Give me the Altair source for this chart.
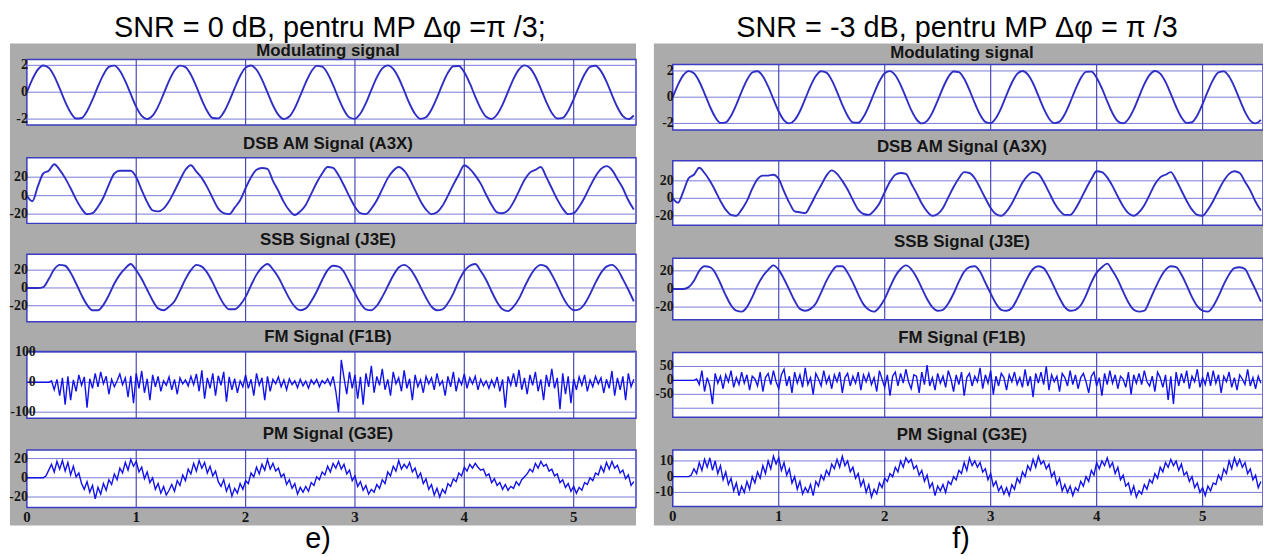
import altair as alt
import pandas as pd

XMAX = 5.57
DT_SMOOTH = 0.05
DT_NOISE = 0.025

main_titles = ["SNR = 0 dB, pentru MP Δφ =π /3;", "SNR = -3 dB, pentru MP Δφ = π /3"]
captions = ["e)", "f)"]
panel_titles = ["Modulating signal", "DSB AM Signal (A3X)", "SSB Signal (J3E)",
                "FM Signal (F1B)", "PM Signal (G3E)"]
x_tick_values = [0, 1, 2, 3, 4, 5]
v_grid_values = [1, 2, 3, 4, 5]

# ---- column e) (SNR = 0 dB) ----
modulating = [0, 0.96, 1.68, 1.99, 1.82, 1.20, 0.28, -0.70, -1.51, -1.96, -1.92, -1.41, -0.56, 0.43, 1.31,
              1.88, 1.98, 1.60, 0.82, -0.15, -1.09, -1.76, -2.00, -1.75, -1.07, -0.13, 0.84, 1.61, 1.98,
              1.87, 1.30, 0.41, -0.58, -1.42, -1.92, -1.95, -1.50, -0.68, 0.30, 1.21, 1.83, 1.99, 1.67,
              0.94, -0.02, -0.97, -1.69, -2.00, -1.81, -1.18, -0.26, 0.72, 1.53, 1.96, 1.91, 1.40, 0.54,
              -0.45, -1.33, -1.88, -1.98, -1.59, -0.81, 0.17, 1.10, 1.77, 2.00, 1.74, 1.06, 0.11, -0.86,
              -1.62, -1.98, -1.86, -1.29, -0.40, 0.59, 1.44, 1.93, 1.95, 1.49, 0.67, -0.32, -1.22, -1.83,
              -1.99, -1.66, -0.93, 0.04, 0.99, 1.70, 2.00, 1.80, 1.17, 0.25, -0.73, -1.54, -1.96, -1.91,
              -1.39, -0.52, 0.46, 1.34, 1.89, 1.97, 1.57, 0.79, -0.19, -1.12, -1.78, -2.00, -1.73, -1.04]

am_e = [0, -6, 10, 24, 27, 34, 28, 19, 8, -4,
        -14, -20, -19, -12, -2, 12, 24, 27, 27, 27,
        20, 6, -7, -16, -17, -14, -6, 5, 17, 28,
        33, 26, 19, 9, -3, -14, -19, -20, -13, -5,
        8, 20, 28, 30, 29, 16, 5, -7, -16, -21,
        -17, -10, 2, 14, 24, 31, 30, 22, 11, -1,
        -12, -19, -20, -14, -5, 7, 19, 27, 31, 27,
        18, 6, -6, -15, -20, -18, -11, 0, 12, 23,
        33, 29, 22, 13, 1, -10, -18, -19, -16, -7,
        5, 17, 25, 28, 31, 20, 8, -4, -14, -20,
        -19, -12, -2, 10, 21, 29, 32, 28, 18, 8,
        -5, -15, -19]

ssb_e = [0, 0, 0, 1, 10, 21, 26, 25, 17, 5,
         -8, -19, -25, -25, -19, -8, 5, 15, 22, 27,
         20, 10, -2, -14, -23, -25, -21, -15, -3, 10,
         20, 26, 24, 17, 6, -7, -18, -24, -24, -19,
         -10, 3, 15, 23, 27, 21, 12, 0, -12, -21,
         -25, -23, -15, -4, 9, 20, 25, 24, 18, 6,
         -6, -17, -24, -25, -20, -10, 2, 14, 23, 26,
         22, 13, 1, -11, -21, -25, -24, -17, -6, 8,
         19, 25, 27, 19, 9, -4, -16, -24, -26, -21,
         -12, 1, 13, 22, 26, 24, 15, 3, -10, -20,
         -25, -24, -18, -7, 6, 17, 24, 26, 21, 10,
         -2, -15, -23]

fm_e = [0, 0, 0, 0, 0, 0, 0, 0, 0,
        5, -25, 10, -45, 15, -75, 20, -60, 8, -30,
        25, -10, 18, -85, 12, -20, 30, -15, 35, -5,
        20, -40, 10, -15, 5, 28, -8, 15, -50, 22,
        -70, 30, -20, 38, -35, 12, -60, 25, -15, 20,
        -30, 5, -10, 18, -25, 10, -40, 15, -5, 8,
        -12, 20, -8, 28, -30, 40, -55, 15, -20, 30,
        -45, 22, -10, 35, -65, 18, -25, 12, -35, 5,
        -15, 25, -20, 10, -45, 30, -10, 15, -60, 20,
        -30, 10, -5, 18, -15, 8, -25, 12, -8, 5,
        -18, 10, -12, 4, -20, 8, -6, 10, -15, 6,
        -4, 12, -10, 20, -30, -100, 75, 15, -40, 35,
        -20, 25, -55, 18, -75, 30, -15, 55, -35, 20,
        -10, 45, -25, 10, -45, 35, -5, 15, -30, 40,
        -20, 12, -60, 25, -15, 8, -35, 20, -5, 15,
        -25, 30, -10, 5, -45, 20, -15, 35, -30, 12,
        -8, 28, -20, 15, -5, 20, -25, 10, -12, 5,
        -20, 8, -15, 18, -30, 10, -85, 20, -10, 30,
        -15, 42, -25, 15, -40, 25, -10, 35, -30, 10,
        -60, 25, -15, 45, -20, 15, -90, 30, -40, 20,
        -70, 12, -25, 18, -10, 25, -30, 8, -15, 20,
        -5, 15, -35, 10, -20, 38, -45, 15, -25, 20,
        -60, 30, -15, 10]

pm_e = [0, 0, 0, 0, 0, 0, 0,
        2, 8, 14, 6, 17, 9, 18, 7, 16, 3,
        12, 1, 5, -6, -12, -4, -15, -8, -22, -10,
        -17, -6, -13, -2, -7, 4, -2, 10, 5, 16,
        8, 19, 12, 17, 6, 11, -1, 6, -5, 0,
        -12, -6, -16, -9, -18, -13, -7, -14, -3, -8,
        3, -3, 9, 4, 15, 7, 18, 10, 16, 5,
        12, 2, 7, -4, -9, -2, -14, -7, -19, -11,
        -16, -6, -12, -3, -6, 5, 1, 11, 4, 14,
        8, 19, 9, 15, 7, 10, 1, 4, -7, -2,
        -11, -6, -17, -10, -15, -9, -14, -5, -8, 1,
        -2, 6, 3, 12, 6, 15, 10, 17, 9, 14,
        4, 8, -3, 2, -9, -4, -13, -8, -17, -12,
        -15, -7, -11, -2, -6, 6, 2, 12, 7, 18,
        9, 14, 10, 16, 6, 10, 0, 5, -6, -1,
        -12, -7, -18, -11, -20, -12, -16, -6, -9, -1,
        -4, 5, 2, 11, 7, 14, 10, 15, 11, 8,
        9, 2, 4, -5, -1, -8, -5, -12, -7, -13,
        -9, -11, -4, -8, -2, 1, 4, 9, 6, 15,
        10, 17, 12, 14, 7, 9, 2, 4, -5, -2,
        -10, -6, -14, -9, -16, -10, -13, -5, -7, 0,
        -3, 5, 3, 12, 6, 16, 9, 17, 10, 13,
        5, 8, -1, 3, -8, -4]

# ---- column f) (SNR = -3 dB) ----
am_f = [0, -5, 8, 23, 27, 35, 29, 20, 9, -3,
        -13, -19, -20, -13, -3, 11, 22, 26, 26, 27,
        22, 8, -5, -15, -16, -17, -8, 4, 15, 26,
        32, 28, 20, 10, -2, -13, -18, -19, -14, -6,
        7, 19, 27, 29, 28, 17, 6, -6, -15, -20,
        -18, -11, 1, 13, 23, 30, 29, 23, 12, 0,
        -11, -18, -20, -15, -6, 6, 18, 26, 30, 28,
        19, 7, -5, -14, -19, -19, -12, -1, 11, 22,
        31, 30, 24, 14, 2, -9, -17, -20, -16, -8,
        4, 16, 24, 27, 30, 21, 9, -3, -13, -19,
        -20, -13, -3, 9, 20, 28, 31, 29, 19, 9,
        -4, -14, -18]

ssb_f = [0, 0, 0, 2, 9, 20, 25, 24, 18, 6,
         -7, -18, -24, -25, -20, -9, 4, 14, 21, 26,
         21, 11, -1, -13, -22, -24, -22, -16, -4, 9,
         19, 25, 25, 18, 7, -6, -17, -23, -25, -20,
         -11, 2, 14, 22, 26, 22, 13, 1, -11, -20,
         -24, -23, -16, -5, 8, 19, 24, 25, 19, 7,
         -5, -16, -23, -24, -21, -11, 1, 13, 22, 25,
         23, 14, 2, -10, -20, -24, -23, -18, -7, 7,
         18, 24, 28, 20, 10, -3, -15, -23, -25, -24,
         -13, 0, 12, 21, 25, 24, 16, 4, -9, -19,
         -24, -25, -19, -8, 5, 16, 23, 24, 22, 11,
         -1, -14, -22]

fm_f = [0, 0, 0, 0, 0, 0, 0, 0, 0,
        5, -15, 35, -40, 10, -20, -85, 25, -10, 15,
        -30, 20, -5, 35, -25, 10, -15, 30, -10, 20,
        -35, 15, 5, -20, 30, -40, 10, 25, -15, 35,
        -5, -30, 20, 40, -20, 15, -45, 30, -10, 20,
        -25, 45, -15, 10, -50, 25, 5, -20, 35, -10,
        15, -30, 20, -5, 30, -45, 10, 25, -20, 15,
        -10, 30, -35, 20, -5, 25, -15, 10, -40, 35,
        5, -25, 20, -55, 15, 30, -20, 25, -10, 40,
        -5, -30, 20, 15, -45, 30, -15, 55, -20, 10,
        -35, 25, -10, 15, -25, 35, 5, -40, 20, -15,
        30, -55, 10, 25, -20, 15, -5, 45, -30, 20,
        -10, 35, -50, 15, -20, 25, 10, -35, 20, -5,
        30, -15, 10, -25, 40, -20, 15, -60, 25, -10,
        30, -15, 50, -35, 20, -5, 15, -40, 25, 10,
        -20, 35, -15, 20, -30, 10, 25, -5, -45, 15,
        30, -20, 10, -55, 25, -15, 35, -10, 20, -30,
        15, 5, -25, 30, -50, 20, -10, 25, -15, 35,
        -5, -20, 15, -40, 30, 10, -25, 20, -70, 15,
        -85, 30, -20, 25, -10, 35, -30, 15, -5, 40,
        -25, 10, -15, 30, -20, 35, -10, 20, -45, 15,
        -5, 30, -25, 10, -35, 20, 5, -15, 40, -20,
        10, -30, 15, -10]

pm_f = [0, 0, 0, 0, 0, 0, 0,
        1, 5, 2, 9, 4, 11, 6, 12, 4, 10, 2, 7, -2, 3, -5, -1, -9, -4, -12, -6, -10, -3, -8, 0, -4,
        3, -1, 7, 2, 10, 5, 13, 8, 12, 4, 9, 1, 5, -4, 0, -8, -3, -11, -7, -10, -5, -12, -3, -6, 1,
        -2, 4, 1, 8, 5, 11, 6, 13, 7, 10, 3, 6, -1, 2, -6, -2, -10, -5, -13, -8, -11, -4, -7, -1, -3,
        2, 0, 6, 3, 10, 6, 12, 9, 11, 5, 7, 1, 4, -3, 1, -7, -4, -12, -6, -9, -5, -10, -3, -5, 0,
        -2, 4, 2, 9, 4, 12, 7, 10, 6, 9, 3, 5, -2, 2, -6, -3, -9, -6, -11, -7, -12, -5, -8, -1, -4,
        3, 0, 7, 4, 11, 6, 13, 8, 10, 5, 8, 0, 3, -5, -1, -9, -5, -10, -6, -12, -7, -9, -3, -6, 0,
        -3, 4, 1, 9, 5, 10, 7, 12, 6, 9, 2, 6, -2, 1, -6, -4, -11, -6, -13, -9, -11, -5, -8, -2, -4,
        2, -1, 6, 3, 9, 6, 11, 7, 10, 4, 8, 1, 3, -3, 0, -7, -4, -10, -7, -12, -6, -9, -4, -5, 1,
        -2, 5, 2, 10, 5, 12, 7, 11, 6, 9, 2, 5, -2, 1, -7, -3]

series_e = [modulating, am_e, ssb_e, fm_e, pm_e]
series_f = [modulating, am_f, ssb_f, fm_f, pm_f]
steps = [DT_SMOOTH, DT_SMOOTH, DT_SMOOTH, DT_NOISE, DT_NOISE]

domains_e = [[-2.44, 2.44], [-30, 41], [-38, 38], [-120, 103], [-31, 29]]
domains_f = [[-2.5, 2.5], [-31, 43], [-34, 34], [-132, 100], [-19, 17]]
ticks_e = [[-2, 0, 2], [-20, 0, 20], [-20, 0, 20], [-100, 0, 100], [-20, 0, 20]]
ticks_f = [[-2, 0, 2], [-20, 0, 20], [-20, 0, 20], [-50, 0, 50], [-10, 0, 10]]
hgrid_e = ticks_e
hgrid_f = [[-2, 0, 2], [-20, 0, 20], [-20, 0, 20], [-100, -50, 0, 50], [-10, 0, 10]]

# ---- layout (pixels, chart coordinates) and styles ----
GRAY = "#ababab"
BORDER = "#3c3cc0"
HGRID = "#7a7ad8"
VGRID = "#4b4bb5"
SMOOTH = "#2e2ec6"
NOISY = "#1212ea"
LABEL = "#161616"
TICKFONT = "Liberation Serif"

COLS = [
    dict(xr=[19, 632], gray=(2, 34, 632, 519), title_x=322, main_x=324, cap_x=312,
         rows=[(50, 116, 42, 0), (149, 215, 135, 0), (246, 314, 232, 0), (344, 411, 329, 8), (443, 501, 427, 0)],
         series=series_e, domains=domains_e, ticks=ticks_e, hgrid=hgrid_e),
    dict(xr=[669, 1263], gray=(650, 34, 1263, 519), title_x=960, main_x=955, cap_x=959,
         rows=[(55, 121, 44, 0), (152, 217, 138, 0), (250, 312, 234, 0), (345, 410, 330, 0), (443, 500, 428, 0)],
         series=series_f, domains=domains_f, ticks=ticks_f, hgrid=hgrid_f),
]

ONE = pd.DataFrame({"k": [0]})
layers = []

for col in COLS:
    x0, y0, x1, y1 = col["gray"]
    layers.append(alt.Chart(ONE).mark_rect(fill=GRAY).encode(
        x=alt.value(x0), x2=alt.value(x1), y=alt.value(y0), y2=alt.value(y1)))

for col in COLS:
    for r, (top, bottom, ty, shift) in enumerate(col["rows"]):
        vals = col["series"][r]
        dt = steps[r]
        df = pd.DataFrame({"t": [i * dt for i in range(len(vals))], "v": vals})
        df = df[df["t"] <= XMAX + 1e-9]
        dom = col["domains"][r]
        xs = alt.Scale(domain=[0, XMAX], range=col["xr"], nice=False, zero=False)
        ys = alt.Scale(domain=dom, range=[bottom, top], nice=False, zero=False)

        white = alt.Chart(ONE).mark_rect(fill="white", stroke=BORDER, strokeWidth=1.5).encode(
            x=alt.XDatum(0, scale=xs, axis=None), x2=alt.X2Datum(XMAX),
            y=alt.YDatum(dom[0], scale=ys, axis=None), y2=alt.Y2Datum(dom[1]))
        hg = alt.Chart(pd.DataFrame({"g": col["hgrid"][r]})).mark_rule(color=HGRID, strokeWidth=1).encode(
            y=alt.Y("g:Q", scale=ys, axis=None),
            x=alt.XDatum(0, scale=xs, axis=None), x2=alt.X2Datum(XMAX))
        vg = alt.Chart(pd.DataFrame({"g": v_grid_values})).mark_rule(color=VGRID, strokeWidth=1.2).encode(
            x=alt.X("g:Q", scale=xs, axis=None),
            y=alt.YDatum(dom[0], scale=ys, axis=None), y2=alt.Y2Datum(dom[1]))

        tk = col["ticks"][r]
        ylab = alt.Chart(pd.DataFrame({"g": tk, "lbl": [str(v) for v in tk]})).mark_text(
            align="right", baseline="middle", dx=1 + shift, font=TICKFONT, fontWeight="bold",
            fontSize=14, color=LABEL).encode(
            y=alt.Y("g:Q", scale=ys, axis=None),
            x=alt.XDatum(0, scale=xs, axis=None), text="lbl:N")

        if r < 3:
            mk = alt.Chart(df).mark_line(color=SMOOTH, strokeWidth=1.9, interpolate="monotone")
        else:
            mk = alt.Chart(df).mark_line(color=NOISY, strokeWidth=1.4)
        line = mk.encode(x=alt.X("t:Q", scale=xs, axis=None), y=alt.Y("v:Q", scale=ys, axis=None))

        parts = [white, hg, vg, line, ylab]
        if r == 4:
            xlab = alt.Chart(pd.DataFrame({"g": x_tick_values, "lbl": [str(v) for v in x_tick_values]})).mark_text(
                align="center", baseline="middle", dy=10, font=TICKFONT, fontWeight="bold",
                fontSize=15, color=LABEL).encode(
                x=alt.X("g:Q", scale=xs, axis=None),
                y=alt.YDatum(dom[0], scale=ys, axis=None), text="lbl:N")
            parts.append(xlab)

        layers.append(alt.layer(*parts))

        layers.append(alt.Chart(pd.DataFrame({"label": [panel_titles[r]]})).mark_text(
            font="Liberation Sans", fontSize=17, fontWeight="bold", color="#151515",
            align="center", baseline="middle").encode(
            x=alt.value(col["title_x"]), y=alt.value(ty), text="label:N"))

for c, col in enumerate(COLS):
    layers.append(alt.Chart(pd.DataFrame({"label": [main_titles[c]]})).mark_text(
        font="Liberation Sans", fontSize=29, color="black", align="center", baseline="alphabetic").encode(
        x=alt.value(col["main_x"]), y=alt.value(27), text="label:N"))
    layers.append(alt.Chart(pd.DataFrame({"label": [captions[c]]})).mark_text(
        font="Liberation Sans", fontSize=29, color="black", align="center", baseline="alphabetic").encode(
        x=alt.value(col["cap_x"]), y=alt.value(542), text="label:N"))

chart = alt.layer(*layers).resolve_scale(
    x="independent", y="independent"
).properties(
    width=1263, height=549, padding=0, background="white",
    autosize=alt.AutoSizeParams(type="none")
).configure_view(stroke=None)

chart.save("out.html", embed_options={"renderer": "svg", "actions": False})
